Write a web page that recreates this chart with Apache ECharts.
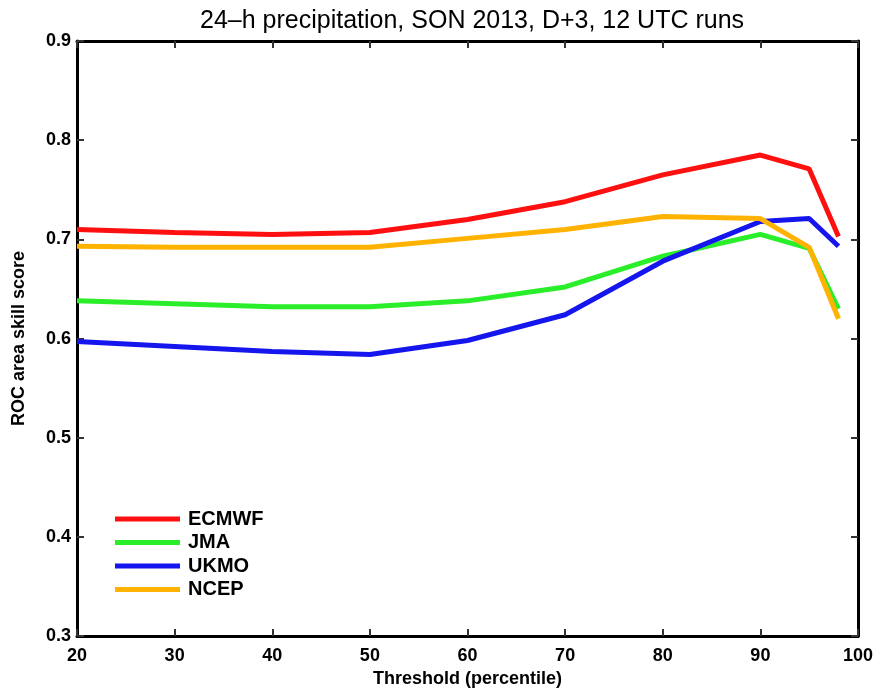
<!DOCTYPE html>
<html>
<head>
<meta charset="utf-8">
<script src="https://cdn.jsdelivr.net/npm/echarts@6/dist/echarts.min.js"></script>
<style>
html, body { margin: 0; padding: 0; background: #fff; }
#chart { width: 881px; height: 693px; }
</style>
</head>
<body>
<div id="chart"></div>
<script>
// thresholds (percentile)
var thresholds = [20, 30, 40, 50, 60, 70, 80, 90, 95, 98];
var ecmwf = [0.710, 0.707, 0.705, 0.707, 0.720, 0.738, 0.765, 0.785, 0.771, 0.703];
var jma   = [0.638, 0.635, 0.632, 0.632, 0.638, 0.652, 0.683, 0.705, 0.691, 0.630];
var ukmo  = [0.597, 0.592, 0.587, 0.584, 0.598, 0.624, 0.678, 0.718, 0.721, 0.693];
var ncep  = [0.693, 0.692, 0.692, 0.692, 0.701, 0.710, 0.723, 0.721, 0.692, 0.620];
var xTicks = [20, 30, 40, 50, 60, 70, 80, 90, 100];
var yTicks = [0.3, 0.4, 0.5, 0.6, 0.7, 0.8, 0.9];

function pairs(vals) {
    var out = [];
    for (var i = 0; i < thresholds.length; i++) {
        out.push([thresholds[i], vals[i]]);
    }
    return out;
}

var chart = echarts.init(document.getElementById('chart'));
var fontFam = '"Liberation Sans", Arial, sans-serif';

function line(name, color, vals) {
    return {
        name: name,
        type: 'line',
        data: pairs(vals),
        symbol: 'none',
        lineStyle: { color: color, width: 5 },
        itemStyle: { color: color },
        z: 3
    };
}

var series = [
    line('ECMWF', '#ff1010', ecmwf),
    line('JMA', '#2aee2a', jma),
    line('UKMO', '#1515ee', ukmo),
    line('NCEP', '#ffb300', ncep)
];

var axisLineStyle = { show: true, lineStyle: { color: '#000', width: 3 } };
var tickStyle = { show: true, inside: true, length: 7, lineStyle: { color: '#333', width: 2 } };

var option = {
    backgroundColor: '#fff',
    animation: false,
    title: {
        text: '24\u2013h precipitation, SON 2013, D+3, 12 UTC runs',
        left: 195,
        top: 4,
        textStyle: { fontFamily: fontFam, fontSize: 25, fontWeight: 'normal', color: '#000' }
    },
    legend: {
        orient: 'vertical',
        left: 115,
        top: 509,
        padding: 0,
        itemWidth: 65,
        itemHeight: 5,
        itemGap: 3.5,
        icon: 'rect',
        textStyle: { fontFamily: fontFam, fontSize: 20, lineHeight: 20, fontWeight: 'bold', color: '#000', padding: [0, 0, 0, 3] },
        data: ['ECMWF', 'JMA', 'UKMO', 'NCEP']
    },
    grid: { left: 77, right: 23, top: 41, bottom: 55 },
    xAxis: [{
        type: 'value',
        min: 20,
        max: 100,
        interval: 10,
        name: 'Threshold (percentile)',
        nameLocation: 'middle',
        nameGap: 32,
        nameTextStyle: { fontFamily: fontFam, fontSize: 18, fontWeight: 'bold', color: '#000' },
        axisLine: axisLineStyle,
        axisTick: tickStyle,
        axisLabel: { fontFamily: fontFam, fontSize: 18, fontWeight: 'bold', color: '#000', margin: 11 },
        splitLine: { show: false }
    }, {
        type: 'value',
        position: 'top',
        min: 20,
        max: 100,
        interval: 10,
        axisLine: axisLineStyle,
        axisTick: tickStyle,
        axisLabel: { show: false },
        splitLine: { show: false }
    }],
    yAxis: [{
        type: 'value',
        min: 0.3,
        max: 0.9,
        interval: 0.1,
        name: 'ROC area skill score',
        nameLocation: 'middle',
        nameGap: 49,
        nameTextStyle: { fontFamily: fontFam, fontSize: 18, fontWeight: 'bold', color: '#000' },
        axisLine: axisLineStyle,
        axisTick: tickStyle,
        axisLabel: {
            fontFamily: fontFam, fontSize: 18, fontWeight: 'bold', color: '#000', margin: 6,
            formatter: function (v) { return v.toFixed(1); }
        },
        splitLine: { show: false }
    }, {
        type: 'value',
        position: 'right',
        min: 0.3,
        max: 0.9,
        interval: 0.1,
        axisLine: axisLineStyle,
        axisTick: tickStyle,
        axisLabel: { show: false },
        splitLine: { show: false }
    }],
    series: series
};
chart.setOption(option);
</script>
</body>
</html>
